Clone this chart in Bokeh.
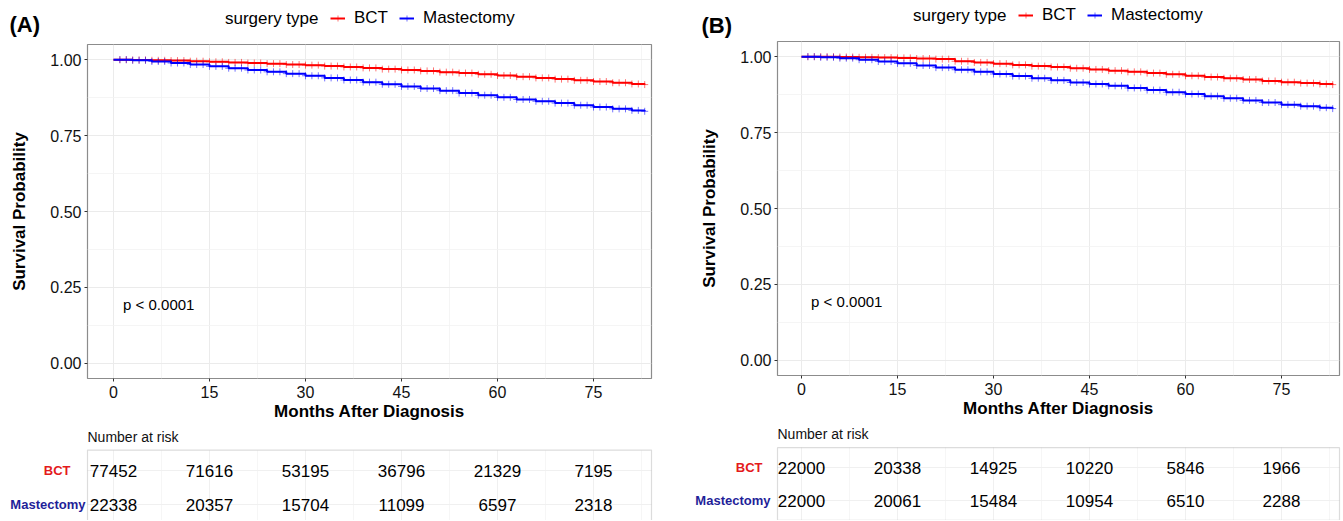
import numpy as np
from bokeh.plotting import figure
from bokeh.layouts import row, column
from bokeh.models import (Range1d, FixedTicker, PrintfTickFormatter, Label,
                          Legend, LegendItem, Grid, BoxAnnotation)
from bokeh.core.properties import value
from bokeh.embed import file_html
from bokeh.resources import INLINE

FONT = "Liberation Sans"

# ---------------- data ----------------
groups = ["BCT", "Mastectomy"]
months = [0, 3, 6, 9, 12, 15, 18, 21, 24, 27, 30, 33, 36, 39, 42, 45, 48, 51,
          54, 57, 60, 63, 66, 69, 72, 75, 78, 81, 83]
a_bct = [1.000, 0.999, 0.998, 0.997, 0.995, 0.993, 0.991, 0.989, 0.987, 0.984,
         0.982, 0.979, 0.976, 0.973, 0.969, 0.966, 0.963, 0.959, 0.956, 0.952,
         0.948, 0.944, 0.940, 0.936, 0.932, 0.928, 0.924, 0.920, 0.918]
a_mast = [1.000, 0.998, 0.994, 0.989, 0.984, 0.978, 0.972, 0.966, 0.960, 0.954,
          0.947, 0.940, 0.933, 0.926, 0.919, 0.912, 0.905, 0.898, 0.890, 0.883,
          0.876, 0.869, 0.863, 0.857, 0.850, 0.844, 0.838, 0.833, 0.830]
b_bct = [1.000, 1.000, 0.999, 0.998, 0.997, 0.996, 0.994, 0.992, 0.985, 0.981,
         0.977, 0.973, 0.969, 0.966, 0.962, 0.958, 0.954, 0.950, 0.946, 0.942,
         0.937, 0.933, 0.929, 0.925, 0.920, 0.916, 0.913, 0.910, 0.908]
b_mast = [1.000, 0.998, 0.995, 0.990, 0.984, 0.978, 0.971, 0.964, 0.957, 0.950,
          0.943, 0.936, 0.929, 0.922, 0.915, 0.910, 0.904, 0.897, 0.890, 0.883,
          0.877, 0.870, 0.863, 0.856, 0.849, 0.842, 0.837, 0.832, 0.829]
censor_months = [1, 2, 3, 4, 5, 6, 7, 8, 9, 10, 11, 12, 13, 14, 15, 16, 17, 18,
                 19, 20, 21, 22, 23, 24, 25, 26, 27, 28, 29, 30, 31, 32, 33, 34,
                 35, 36, 37, 38, 39, 40, 41, 42, 43, 44, 45, 46, 47, 48, 49, 50,
                 51, 52, 53, 54, 55, 56, 57, 58, 59, 60, 61, 62, 63, 64, 65, 66,
                 67, 68, 69, 70, 71, 72, 73, 74, 75, 76, 77, 78, 79, 80, 81, 82, 83]
risk_months = [0, 15, 30, 45, 60, 75]
a_risk_bct = [77452, 71616, 53195, 36796, 21329, 7195]
a_risk_mast = [22338, 20357, 15704, 11099, 6597, 2318]
b_risk_bct = [22000, 20338, 14925, 10220, 5846, 1966]
b_risk_mast = [22000, 20061, 15484, 10954, 6510, 2288]
x_ticks = [0, 15, 30, 45, 60, 75]
x_minor = [7.5, 22.5, 37.5, 52.5, 67.5, 82.5]
y_ticks = [0.0, 0.25, 0.5, 0.75, 1.0]
y_minor = [0.125, 0.375, 0.625, 0.875]
pvalue_text = "p < 0.0001"
pvalue_pos = (1.5, 0.195)

RED = "#FF0000"
BLUE = "#0000FF"
LAB_RED = "#E41A1C"
LAB_BLUE = "#1F1F99"
FRAME_COL = "#8C8C8C"
Y0, Y1 = -0.05, 1.05
X1 = 84.06
HDR_H = 39
FRAME_H = 334
BOTTOM = 46


def step_at(t, s, q):
    t = np.asarray(t, dtype=float)
    s = np.asarray(s, dtype=float)
    idx = np.searchsorted(t, np.asarray(q, dtype=float), side="right") - 1
    return s[idx]


def add_curves(p, bct, mast, visible=True):
    out = []
    for name, surv, col in ((groups[0], bct, RED), (groups[1], mast, BLUE)):
        r1 = p.step(months, surv, mode="after", line_color=col, line_width=2,
                    visible=visible)
        cy = step_at(months, surv, censor_months)
        r2 = p.scatter(censor_months, cy, marker="cross", size=7,
                       line_color=col, line_alpha=0.55, line_width=1,
                       visible=visible)
        out.append(LegendItem(label=name, renderers=[r1, r2]))
    return out


def header_fig(tag, bct, mast, width, tag_x, tag_y, leg_x, leg_y):
    h = figure(width=width, height=HDR_H, x_range=Range1d(0, width),
               y_range=Range1d(HDR_H, 0), x_axis_location=None,
               y_axis_location=None, output_backend="svg",
               toolbar_location=None, min_border=0)
    h.grid.visible = False
    h.outline_line_color = None
    h.background_fill_color = "white"
    h.border_fill_color = "white"
    items = add_curves(h, bct, mast, visible=False)
    leg = Legend(items=items, orientation="horizontal",
                 location=(leg_x, HDR_H - leg_y - 10), glyph_width=15,
                 glyph_height=16, label_standoff=9, spacing=11, padding=0,
                 margin=0, label_text_font=FONT, label_text_font_size="17px",
                 label_text_color="#000000", label_height=20,
                 border_line_color=None, background_fill_alpha=0,
                 inactive_fill_alpha=0)
    h.add_layout(leg, "center")
    h.add_layout(Label(x=leg_x - 12, y=leg_y, text="surgery type",
                       text_align="right", text_baseline="middle",
                       text_font=FONT, text_font_size="17px", text_color="#000000"))
    h.add_layout(Label(x=tag_x, y=tag_y, text=tag,
                       text_align="left", text_baseline="middle",
                       text_font=FONT, text_font_size="22px",
                       text_font_style="bold", text_color="#000000"))
    return h


def km_fig(bct, mast, width, left, right, top, x0):
    p = figure(width=width, height=top + FRAME_H + BOTTOM,
               x_range=Range1d(x0, X1), y_range=Range1d(Y0, Y1),
               output_backend="svg", toolbar_location=None,
               min_border_left=left, min_border_right=right,
               min_border_top=top, min_border_bottom=BOTTOM)
    p.outline_line_color = FRAME_COL
    p.outline_line_width = 1.2
    p.background_fill_color = "white"
    p.border_fill_color = "white"
    add_curves(p, bct, mast)

    p.xaxis.ticker = FixedTicker(ticks=x_ticks, minor_ticks=x_minor)
    p.yaxis.ticker = FixedTicker(ticks=y_ticks, minor_ticks=y_minor)
    p.yaxis.formatter = PrintfTickFormatter(format="%.2f")
    for ax in (p.xaxis[0], p.yaxis[0]):
        ax.axis_line_color = None
        ax.major_tick_line_color = "#333333"
        ax.major_tick_out = 3
        ax.major_tick_in = 0
        ax.minor_tick_out = 0
        ax.minor_tick_in = 0
        ax.major_label_text_font = FONT
        ax.major_label_text_font_size = "16px"
        ax.major_label_text_color = "#111111"
        ax.axis_label_text_font = FONT
        ax.axis_label_text_font_size = "17px"
        ax.axis_label_text_font_style = "bold"
        ax.axis_label_text_color = "#000000"
    p.xaxis.major_label_standoff = 4
    p.yaxis.major_label_standoff = 3
    p.xaxis.axis_label = "Months After Diagnosis"
    p.xaxis.axis_label_standoff = 1
    p.yaxis.axis_label = "Survival Probability"
    p.yaxis.axis_label_standoff = 18
    for g in (p.xgrid[0], p.ygrid[0]):
        g.grid_line_color = "#EBEBEB"
        g.grid_line_width = 1
        g.minor_grid_line_color = "#F3F3F3"
        g.minor_grid_line_width = 0.8
    p.add_layout(Label(x=pvalue_pos[0], y=pvalue_pos[1], text=pvalue_text,
                       text_align="left", text_baseline="middle",
                       text_font=FONT, text_font_size="15px", text_color="#000000"))
    return p


def table_fig(bct_counts, mast_counts, width, left, right, x0, height, ppu,
              bct_dx, mast_dx):
    ppm = (width - left - right) / (X1 - x0)        # pixels per month
    xs, xe = x0 - left / ppm, X1 + right / ppm
    ytop = 2 + 46 / ppu
    ybot = ytop - height / ppu
    t = figure(width=width, height=height, x_range=Range1d(xs, xe),
               y_range=Range1d(ybot, ytop), x_axis_location=None,
               y_axis_location=None, output_backend="svg",
               toolbar_location=None, min_border=0)
    t.grid.visible = False
    t.outline_line_color = None
    t.background_fill_color = "white"
    t.border_fill_color = "white"
    if "cross_bounds" in Grid.properties():
        t.add_layout(Grid(dimension=0,
                          ticker=FixedTicker(ticks=x_ticks, minor_ticks=x_minor),
                          cross_bounds=(0.4, 2.6),
                          grid_line_color="#F0F0F0", minor_grid_line_color="#F6F6F6"))
        t.add_layout(Grid(dimension=1, ticker=FixedTicker(ticks=[1, 2]),
                          cross_bounds=(x0, X1), grid_line_color="#F0F0F0"))
    t.add_layout(BoxAnnotation(left=x0, right=X1, bottom=0.4, top=2.6,
                               fill_alpha=0, line_color=FRAME_COL, line_width=1.2))
    t.text(x=risk_months, y=[2] * len(risk_months), text=[str(v) for v in bct_counts],
           text_align="center", text_baseline="middle",
           text_font=value(FONT), text_font_size="17px", text_color="#000000")
    t.text(x=risk_months, y=[1] * len(risk_months), text=[str(v) for v in mast_counts],
           text_align="center", text_baseline="middle",
           text_font=value(FONT), text_font_size="17px", text_color="#000000")
    t.add_layout(Label(x=x0, y=ytop - 12 / ppu, text="Number at risk",
                       text_align="left", text_baseline="middle",
                       text_font=FONT, text_font_size="14px", text_color="#111111"))
    t.add_layout(Label(x=x0 - bct_dx / ppm, y=2, text=groups[0],
                       text_align="right", text_baseline="middle",
                       text_font=FONT, text_font_size="13px",
                       text_font_style="bold", text_color=LAB_RED))
    t.add_layout(Label(x=x0 - mast_dx / ppm, y=1, text=groups[1],
                       text_align="right", text_baseline="middle",
                       text_font=FONT, text_font_size="13px",
                       text_font_style="bold", text_color=LAB_BLUE))
    return t


# panel A
hdrA = header_fig("(A)", a_bct, a_mast, 684, 9, 24, 330, 18)
kmA = km_fig(a_bct, a_mast, 684, 87, 33, 5, -4.06)
tabA = table_fig(a_risk_bct, a_risk_mast, 684, 87, 33, -4.06, 96, 34, 17, 2)
# panel B
hdrB = header_fig("(B)", b_bct, b_mast, 658, 17, 25, 334, 15)
kmB = km_fig(b_bct, b_mast, 658, 93, 3, 2, -3.75)
tabB = table_fig(b_risk_bct, b_risk_mast, 658, 93, 3, -3.75, 99, 33, 15, 7)

# wrapping each figure in its own row keeps Bokeh from aligning their frames
layout = row(column(row(hdrA), row(kmA), row(tabA)),
             column(row(hdrB), row(kmB), row(tabB)))

with open("out.html", "w") as f:
    f.write(file_html(layout, INLINE))
